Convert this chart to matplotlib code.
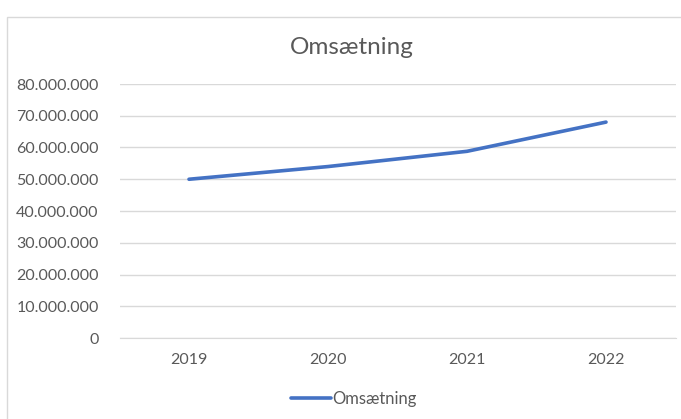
import matplotlib
matplotlib.use('Agg')
from matplotlib import pyplot as plt
from matplotlib.ticker import FuncFormatter
from matplotlib.patches import Rectangle

## Data
years = ['2019', '2020', '2021', '2022']
omsaetning = [50_000_000, 54_000_000, 58_800_000, 68_000_000]
title = 'Omsætning'
series_name = 'Omsætning'

## Style
plt.rcParams['font.family'] = ['Lato', 'DejaVu Sans']
text_color = '#595959'
grid_color = '#d9d9d9'
line_color = '#4472c4'

fig = plt.figure(figsize=(6.81, 4.19), dpi=100)
W, H = 681, 419

# chart border (Excel chart area)
fig.patches.append(Rectangle((7 / W, -0.1), 1.0, (H - 17) / H + 0.1,
                             transform=fig.transFigure, fill=False,
                             edgecolor='#d9d9d9', linewidth=1.0))

ax = fig.add_axes([119.5 / W, (H - 338) / H, 556 / W, 254 / H])
x = range(len(years))
ax.plot(x, omsaetning, color=line_color, linewidth=2.6,
        solid_capstyle='round', solid_joinstyle='round', label=series_name)

ax.set_xlim(-0.5, len(years) - 0.5)
ax.set_ylim(0, 80_000_000)
ax.set_yticks(range(0, 80_000_001, 10_000_000))
ax.yaxis.set_major_formatter(
    FuncFormatter(lambda v, p: f'{int(v):,}'.replace(',', '.')))
ax.set_xticks(list(x))
ax.set_xticklabels(years)

ax.grid(axis='y', color=grid_color, linewidth=1.0)
ax.set_axisbelow(True)
for s in ['top', 'right', 'left']:
    ax.spines[s].set_visible(False)
ax.spines['bottom'].set_color(grid_color)
ax.tick_params(axis='both', length=0, colors=text_color, labelsize=11.5)
ax.tick_params(axis='y', pad=15)
ax.tick_params(axis='x', pad=11)

fig.text(352 / W, (H - 47) / H, title, ha='center', va='center',
         fontsize=17.5, color=text_color)

fig.legend(loc='center', bbox_to_anchor=(354 / W, (H - 399) / H),
           frameon=False, fontsize=12, labelcolor=text_color,
           handlelength=2.4, handletextpad=0.1)

fig.savefig('out.png', dpi=100)
plt.close()
